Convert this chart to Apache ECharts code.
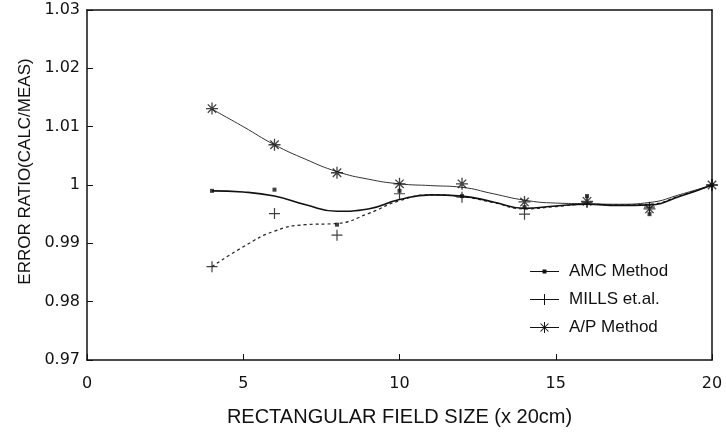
<!DOCTYPE html>
<html>
<head>
<meta charset="utf-8">
<script src="https://cdn.jsdelivr.net/npm/echarts@6/dist/echarts.min.js"></script>
<style>
html,body{margin:0;padding:0;background:#fff;}
#chart{width:726px;height:432px;}
</style>
</head>
<body>
<div id="chart"></div>
<script>
// ---- Data ----
var xTickLabels = ['0', '5', '10', '15', '20'];
var yTickLabels = ['0.97', '0.98', '0.99', '1', '1.01', '1.02', '1.03'];
var seriesNames = ['AMC Method', 'MILLS et.al.', 'A/P Method'];

// fitted curves, read at each integer field size
var curveX = [4, 5, 6, 7, 8, 9, 10, 11, 12, 13, 14, 15, 16, 17, 18, 19, 20];
var amcCurve = [0.9990, 0.9988, 0.9981, 0.9966, 0.9955, 0.9959, 0.9975, 0.9983, 0.9981, 0.9971, 0.9960, 0.9964, 0.9967, 0.9965, 0.9966, 0.9981, 1.0000];
var millsCurve = [0.9860, 0.9894, 0.9921, 0.9932, 0.9934, 0.9951, 0.9973, 0.9983, 0.9980, 0.9970, 0.9959, 0.9963, 0.9967, 0.9966, 0.9967, 0.9982, 1.0000];
var apCurve = [1.0130, 1.0100, 1.0069, 1.0044, 1.0023, 1.0010, 1.0002, 0.9999, 0.9996, 0.9985, 0.9974, 0.9969, 0.9968, 0.9967, 0.9970, 0.9984, 1.0000];

// measured points
var markX = [4, 6, 8, 10, 12, 14, 16, 18, 20];
var amcPoints = [0.9990, 0.9992, 0.9932, 0.9990, 0.9981, 0.9962, 0.9981, 0.9950, 1.0000];
var millsPoints = [0.9860, 0.9951, 0.9914, 0.9985, 0.9979, 0.9950, 0.9970, 0.9962, 1.0000];
var apPoints = [1.0131, 1.0069, 1.0021, 1.0002, 1.0002, 0.9971, 0.9972, 0.9959, 1.0000];

function pairs(xs, ys) { return xs.map(function (x, i) { return [x, ys[i]]; }); }

var INK = '#111';
var plusPath = 'path://M0,5H10M5,0V10';
var starPath = 'path://M0,5H10M5,0V10M1.5,1.5L8.5,8.5M1.5,8.5L8.5,1.5';

var legAmc = 'path://M0,6.4H29V7.6H0Z M12.5,5H16.5V9H12.5Z';
var legMills = 'path://M0,6.5H29V7.5H0Z M14,1.5H15V12.5H14Z';
var legAp = 'path://M0,6.5H29V7.5H0Z M14,1.5H15V12.5H14Z M10.15,3.35L10.85,2.65L18.85,10.65L18.15,11.35Z M18.15,2.65L18.85,3.35L10.85,11.35L10.15,10.65Z';

var chart = echarts.init(document.getElementById('chart'), null, {renderer: 'canvas'});
var axisLineStyle = {color: INK, width: 1.5};
chart.setOption({
  animation: false,
  backgroundColor: '#fff',
  grid: {left: 87, right: 14, top: 10, bottom: 70, containLabel: false},
  legend: {
    orient: 'vertical',
    left: 525,
    top: 258,
    itemWidth: 29,
    itemHeight: 14,
    itemGap: 11,
    selectedMode: false,
    itemStyle: {borderWidth: 0},
    textStyle: {fontFamily: 'Liberation Sans', fontSize: 17, color: INK, padding: [0, 0, 0, 5]},
    data: [
      {name: seriesNames[0], icon: legAmc},
      {name: seriesNames[1], icon: legMills},
      {name: seriesNames[2], icon: legAp}
    ]
  },
  xAxis: [{
    type: 'value', position: 'bottom', min: 0, max: 20, interval: 5,
    axisLine: {show: true, onZero: false, lineStyle: axisLineStyle},
    axisTick: {show: true, inside: true, length: 6, lineStyle: {color: INK, width: 1}},
    axisLabel: {margin: 16, fontFamily: 'DejaVu Sans', fontSize: 16, color: INK,
      formatter: function (v) { return xTickLabels[Math.round(v / 5)]; }},
    splitLine: {show: false},
    name: 'RECTANGULAR FIELD SIZE (x 20cm)', nameLocation: 'middle', nameGap: 47,
    nameTextStyle: {fontFamily: 'Liberation Sans', fontSize: 20, color: INK}
  }, {
    type: 'value', position: 'top', min: 0, max: 20, interval: 5,
    axisLine: {show: true, onZero: false, lineStyle: axisLineStyle},
    axisTick: {show: false}, axisLabel: {show: false}, splitLine: {show: false}
  }],
  yAxis: [{
    type: 'value', position: 'left', min: 0.97, max: 1.03, interval: 0.01,
    axisLine: {show: true, onZero: false, lineStyle: axisLineStyle},
    axisTick: {show: true, inside: true, length: 6, lineStyle: {color: INK, width: 1}},
    axisLabel: {margin: 7, fontFamily: 'DejaVu Sans', fontSize: 16, color: INK,
      formatter: function (v) { return yTickLabels[Math.round((v - 0.97) / 0.01)]; }},
    splitLine: {show: false},
    name: 'ERROR RATIO(CALC/MEAS)', nameLocation: 'middle', nameGap: 47,
    nameTextStyle: {fontFamily: 'Liberation Sans', fontSize: 17, color: INK, padding: [0, 0, 0, 27]}
  }, {
    type: 'value', position: 'right', min: 0.97, max: 1.03, interval: 0.01,
    axisLine: {show: true, onZero: false, lineStyle: axisLineStyle},
    axisTick: {show: false}, axisLabel: {show: false}, splitLine: {show: false}
  }],
  series: [
    {name: seriesNames[0], type: 'line', smooth: 0.5, showSymbol: false, symbol: 'rect', silent: true,
     data: pairs(curveX, amcCurve), itemStyle: {color: INK},
     lineStyle: {color: INK, width: 1.6}, z: 3},
    {name: seriesNames[1], type: 'line', smooth: 0.5, showSymbol: false, symbol: 'rect', silent: true,
     data: pairs(curveX, millsCurve), itemStyle: {color: INK},
     lineStyle: {color: '#222', width: 1.2, type: [3, 3]}, z: 2},
    {name: seriesNames[2], type: 'line', smooth: 0.5, showSymbol: false, symbol: 'rect', silent: true,
     data: pairs(curveX, apCurve), itemStyle: {color: INK},
     lineStyle: {color: '#333', width: 1}, z: 2},
    {name: seriesNames[0], type: 'scatter', silent: true, symbol: 'rect', symbolSize: 4,
     data: pairs(markX, amcPoints), itemStyle: {color: INK}, z: 4},
    {name: seriesNames[1], type: 'scatter', silent: true, symbol: plusPath, symbolSize: 11,
     data: pairs(markX, millsPoints), itemStyle: {color: 'none', borderColor: INK, borderWidth: 1.2}, z: 4},
    {name: seriesNames[2], type: 'scatter', silent: true, symbol: starPath, symbolSize: 12,
     data: pairs(markX, apPoints), itemStyle: {color: 'none', borderColor: INK, borderWidth: 1.3}, z: 4}
  ]
});
</script>
</body>
</html>
